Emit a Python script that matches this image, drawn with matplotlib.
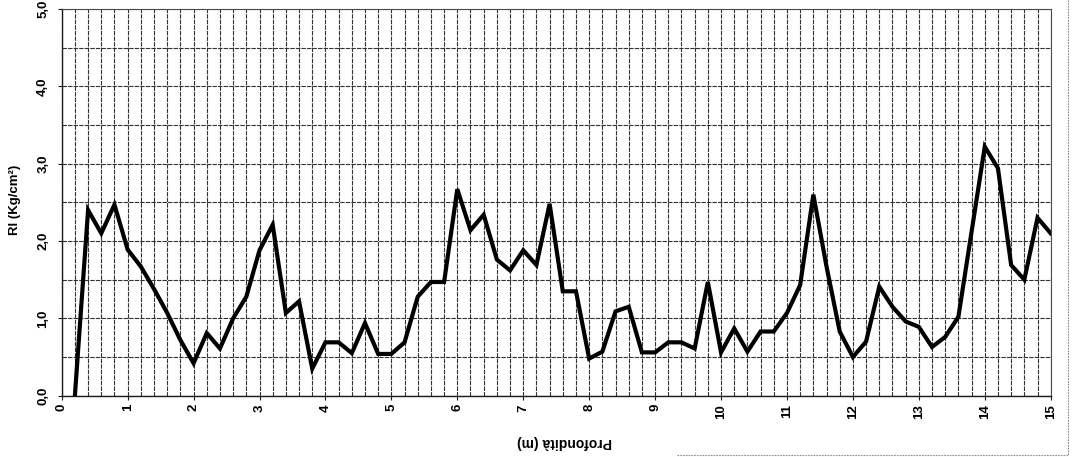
import numpy as np
import matplotlib
matplotlib.use("Agg")
import matplotlib.pyplot as plt
from matplotlib.ticker import MultipleLocator, FuncFormatter
from matplotlib.lines import Line2D

plt.rcParams['font.family'] = ['Liberation Sans', 'DejaVu Sans']

# depth (m) and Rl (Kg/cm2)
depth = [0.2, 0.4, 0.6, 0.8, 1.0, 1.2, 1.4, 1.6, 1.8, 2.0,
         2.2, 2.4, 2.6, 2.8, 3.0, 3.2, 3.4, 3.6, 3.8, 4.0,
         4.2, 4.4, 4.6, 4.8, 5.0, 5.2, 5.4, 5.6, 5.8, 6.0,
         6.2, 6.4, 6.6, 6.8, 7.0, 7.2, 7.4, 7.6, 7.8, 8.0,
         8.2, 8.4, 8.6, 8.8, 9.0, 9.2, 9.4, 9.6, 9.8, 10.0,
         10.2, 10.4, 10.6, 10.8, 11.0, 11.2, 11.4, 11.6, 11.8, 12.0,
         12.2, 12.4, 12.6, 12.8, 13.0, 13.2, 13.4, 13.6, 13.8, 14.0,
         14.2, 14.4, 14.6, 14.8, 15.0]
rl = [0.00, 2.40, 2.10, 2.47, 1.89, 1.67, 1.38, 1.07, 0.72, 0.42,
      0.81, 0.61, 1.00, 1.28, 1.88, 2.21, 1.07, 1.22, 0.35, 0.69,
      0.69, 0.55, 0.94, 0.54, 0.54, 0.69, 1.28, 1.47, 1.47, 2.67,
      2.14, 2.34, 1.76, 1.62, 1.88, 1.69, 2.48, 1.35, 1.35, 0.48,
      0.57, 1.09, 1.15, 0.56, 0.56, 0.69, 0.69, 0.61, 1.47, 0.56,
      0.87, 0.57, 0.83, 0.83, 1.07, 1.43, 2.60, 1.67, 0.83, 0.50,
      0.70, 1.41, 1.15, 0.96, 0.89, 0.63, 0.76, 1.02, 2.12, 3.22,
      2.94, 1.69, 1.50, 2.30, 2.10]

W, H = 1085, 457
fig = plt.figure(figsize=(W / 100, H / 100), dpi=100)
ax = fig.add_axes([61.7 / W, 1 - 395.7 / H, (1050.7 - 61.7) / W, (395.7 - 9) / H])

ax.plot(depth, rl, color='black', lw=3.0, solid_joinstyle='miter', zorder=3)

ax.set_xlim(0, 15)
ax.set_ylim(0, 5)
ax.xaxis.set_major_locator(MultipleLocator(1))
ax.xaxis.set_minor_locator(MultipleLocator(0.2))
ax.yaxis.set_major_locator(MultipleLocator(1))
ax.yaxis.set_minor_locator(MultipleLocator(0.5))
ax.yaxis.set_major_formatter(FuncFormatter(lambda v, p: f"{v:.1f}".replace('.', ',')))

grid_kw = dict(color='0.2', lw=0.8, linestyle=(0, (4, 1)))
ax.grid(True, which='both', axis='both', **grid_kw)
ax.set_axisbelow(True)

for side in ['top', 'right']:
    ax.spines[side].set_color('0.3')
    ax.spines[side].set_linewidth(0.8)
    ax.spines[side].set_linestyle((0, (4, 1)))
for side in ['left', 'bottom']:
    ax.spines[side].set_color('0.1')
    ax.spines[side].set_linewidth(1.0)

ax.tick_params(axis='both', which='minor', length=0)
ax.tick_params(axis='both', which='major', length=3, width=0.8, color='0.1')
ax.tick_params(axis='x', labelsize=9.5, pad=3, labelrotation=90)
ax.tick_params(axis='y', labelsize=9.5, pad=6, labelrotation=90)
for lab in ax.get_xticklabels() + ax.get_yticklabels():
    lab.set_fontweight('bold')
for lab in ax.get_yticklabels():
    lab.set_va('center')

fig.text(15 / W, 1 - 200 / H, 'Rl (Kg/cm²)', rotation=90, fontsize=9.5,
         fontweight='bold', ha='center', va='center')
fig.text(565 / W, 1 - 442 / H, 'Profondità (m)', rotation=180, fontsize=10,
         fontweight='bold', ha='center', va='center')

# scanned page frame (right and bottom edges)
frame_kw = dict(color='0.55', lw=0.8, linestyle=(0, (1.5, 1)), transform=fig.transFigure)
fig.add_artist(Line2D([1068 / W, 1068 / W], [1.0, 1 - 455 / H], **frame_kw))
fig.add_artist(Line2D([677 / W, 1068 / W], [1 - 455 / H, 1 - 455 / H], **frame_kw))

fig.savefig('out.png', dpi=100)
